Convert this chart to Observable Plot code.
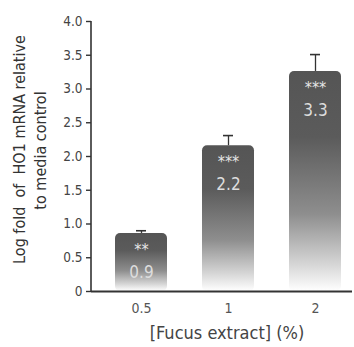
<!DOCTYPE html>
<html>
<head>
<meta charset="utf-8">
<script src="https://cdn.jsdelivr.net/npm/d3@7"></script>
<script src="https://cdn.jsdelivr.net/npm/@observablehq/plot@0.6"></script>
<style>
  html, body { margin: 0; padding: 0; background: #fff; }
</style>
</head>
<body>
<div id="chart"></div>
<script>
const categories = ["0.5", "1", "2"];
const means = [0.86, 2.16, 3.26];
const upper = [0.90, 2.31, 3.51];
const valueLabels = ["0.9", "2.2", "3.3"];
const stars = ["**", "***", "***"];
const yTicks = [0, 0.5, 1, 1.5, 2, 2.5, 3, 3.5, 4];
const xTitle = "[Fucus extract] (%)";
const yTitle = ["Log fold  of  HO1 mRNA relative", "to media control"];

const data = categories.map((c, i) => ({cat: c, mean: means[i], up: upper[i], label: valueLabels[i], star: stars[i]}));

const font = "'Liberation Sans Narrow', 'DejaVu Sans Condensed', 'Roboto Condensed', sans-serif";

const defs = () => {
  const d = d3.create("svg:defs");
  const g = d.append("linearGradient").attr("id", "barGrad")
    .attr("x1", 0).attr("y1", 0).attr("x2", 0).attr("y2", 1);
  [[0, "#555555"], [0.3, "#5b5b5b"], [0.65, "#8e8e8e"], [0.88, "#d6d6d6"], [1, "#ffffff"]]
    .forEach(([o, c]) => g.append("stop").attr("offset", o).attr("stop-color", c));
  return d.node();
};

const yAxisLine = (index, scales, values, dims) => {
  const x = dims.marginLeft;
  return d3.create("svg:line")
    .attr("x1", x).attr("x2", x)
    .attr("y1", scales.y(4)).attr("y2", scales.y(0))
    .attr("stroke", "#333").attr("stroke-width", 1.6).node();
};

const chart = Plot.plot({
  width: 354,
  height: 347,
  marginLeft: 91,
  marginRight: 2,
  marginTop: 21,
  marginBottom: 56,
  style: {fontFamily: font, background: "#fff"},
  x: {domain: categories, range: [78.5, 376.5], padding: 0.406, label: null},
  y: {domain: [0, 4], label: null},
  marks: [
    defs,
    Plot.barY(data, {x: "cat", y: "mean", fill: "url(#barGrad)", rx: 5}),
    Plot.ruleX(data, {x: "cat", y1: "mean", y2: "up", stroke: "#333", strokeWidth: 1.3}),
    Plot.tickY(data, {x: "cat", y: "up", stroke: "#333", strokeWidth: 1.6, inset: 21}),
    Plot.text(data, {x: "cat", y: "mean", text: "star", dy: 16, fill: "#e6e6e6", fontSize: 16}),
    Plot.text(data, {x: "cat", y: "mean", text: "label", dy: 39, fill: "#dddddd", fontSize: 17}),
    Plot.axisY({ticks: yTicks, tickFormat: d => d === 0 ? "0" : d.toFixed(1), tickSize: 5, tickPadding: 4, fontSize: 13.5, fill: "#444", stroke: "#333", strokeWidth: 1.4}),
    yAxisLine,
    Plot.ruleY([0], {stroke: "#333", strokeWidth: 2}),
    Plot.axisX({tickSize: 0, tickPadding: 12, fontSize: 14, fill: "#555"}),
    Plot.text([xTitle], {frameAnchor: "bottom", dx: 5, dy: 47, fontSize: 18, fill: "#444"}),
    Plot.text([yTitle[0]], {frameAnchor: "left", textAnchor: "middle", rotate: -90, dx: -72, dy: -7, fontSize: 16, fill: "#333"}),
    Plot.text([yTitle[1]], {frameAnchor: "left", textAnchor: "middle", rotate: -90, dx: -51, dy: -6, fontSize: 16, fill: "#333"})
  ]
});
document.getElementById("chart").appendChild(chart);
</script>
</body>
</html>
